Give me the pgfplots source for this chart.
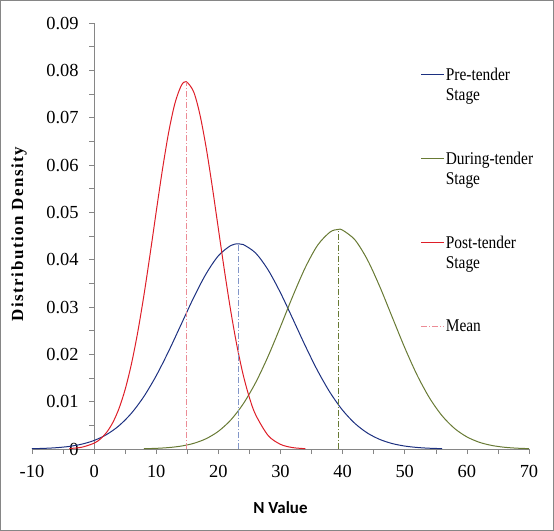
\documentclass[border=0pt]{standalone}
\usepackage{pgfplots}
\pgfplotsset{compat=1.18}
\usepackage{fontspec}
\setmainfont{Liberation Serif}
\newfontfamily\calibri{Carlito}
\newfontfamily\ylabfont[LetterSpace=9]{Liberation Serif}
\newfontfamily\legfont[FakeStretch=0.86]{Liberation Serif}
\definecolor{preblue}{RGB}{28,48,128}
\definecolor{duringgreen}{RGB}{104,122,52}
\definecolor{postred}{RGB}{222,30,40}
\definecolor{meanred}{RGB}{236,140,150}
\definecolor{meanblue}{RGB}{130,150,200}
\definecolor{axgray}{RGB}{134,134,134}
\newcommand\twoline[2]{\parbox[t]{100bp}{\raggedright #1\newline #2}}
\begin{document}
\begin{tikzpicture}
\begin{axis}[
  at={(0,0)}, anchor=south west,
  scale only axis, width=497bp, height=426bp,
  xmin=-10, xmax=70, ymin=0, ymax=0.09,
  axis x line=bottom, axis y line=middle,
  axis line style={axgray, -},
  hide obscured x ticks=false, hide obscured y ticks=false,
  xtick={-10,0,...,70}, minor x tick num=1,
  ytick={0,0.01,...,0.09}, minor y tick num=1,
  scaled y ticks=false,
  tick style={axgray, line width=0.6pt},
  major tick length=5bp, minor tick length=5bp,
  tick align=outside,
  /pgf/number format/assume math mode=true,
  yticklabel style={font=\fontsize{18.5}{20}\selectfont, xshift=-7bp,
    /pgf/number format/fixed, /pgf/number format/precision=2},
  xticklabel style={font=\fontsize{18.5}{20}\selectfont, yshift=-8bp},
  every axis x label/.style={at={(rel axis cs:0.5,0)}, anchor=center, yshift=-59bp},
  every axis y label/.style={at={(rel axis cs:0,0.5)}, anchor=center, xshift=-13bp, yshift=2bp, rotate=90},
  xlabel={\calibri\bfseries\fontsize{17}{19}\selectfont N Value},
  ylabel={\ylabfont\bfseries\fontsize{17}{19}\selectfont Distribution Density},
  legend style={draw=none, fill=none, at={(rel axis cs:0.776,0.902)}, anchor=north west,
    font=\legfont\fontsize{18}{20}\selectfont, row sep=68bp, nodes={inner sep=1bp}},
  legend cell align=left,
  legend image post style={xscale=1.35},
  clip=false,
]
\addplot[preblue, line width=1pt, smooth] coordinates {
(-10,0.0000645) (-8,0.000138) (-6,0.000281) (-4,0.000548) (-2,0.001019) (0,0.001803)
(2,0.003048) (4,0.004912) (6,0.007550) (8,0.01107) (10,0.01549) (12,0.02067)
(14,0.02630) (16,0.03192) (18,0.03696) (20,0.04082) (22,0.04299) (23.2,0.04336)
(24,0.04320) (26,0.04140) (28,0.03785) (30,0.03300) (32,0.02744) (34,0.02177)
(36,0.01647) (38,0.01189) (40,0.008187) (42,0.005377) (44,0.003366) (46,0.002011)
(48,0.001146) (50,0.000623) (52,0.000323) (54,0.000160) (56,0.0000754)};
\addlegendentry{\twoline{Pre-tender}{Stage}}
\addplot[duringgreen, line width=1pt, smooth] coordinates {
(8,0.0000617) (10,0.000140) (12,0.000301) (14,0.000612) (16,0.001181) (18,0.002159)
(20,0.003739) (22,0.006133) (24,0.009529) (26,0.01403) (28,0.01957) (30,0.02585)
(32,0.03236) (34,0.03836) (36,0.04310) (38,0.04586) (39.3,0.04639) (40,0.04624)
(42,0.04416) (44,0.03996) (46,0.03425) (48,0.02781) (50,0.02140) (52,0.01559)
(54,0.01076) (56,0.007040) (58,0.004362) (60,0.002560) (62,0.001424) (64,0.000751)
(66,0.000375) (68,0.000177) (70,0.0000793)};
\addlegendentry{\twoline{During-tender}{Stage}}
\addplot[postred, line width=1pt, smooth] coordinates {
(-4,0.0000966) (-2,0.000372) (0,0.001230) (1,0.002112) (2,0.003494) (3,0.005568)
(4,0.008538) (5,0.01261) (6,0.01793) (7,0.02454) (8,0.03235) (9,0.04107)
(10,0.05019) (11,0.05906) (12,0.06692) (13,0.07300) (14,0.07669) (14.8,0.07762)
(16,0.07553) (17,0.07083) (18,0.06394) (19,0.05559) (20,0.04653) (21,0.03750)
(22,0.02910) (23,0.02174) (24,0.01564) (25,0.01084) (26,0.007228) (28,0.002870)
(30,0.000980) (32,0.000287) (34,0.0000725)};
\addlegendentry{\twoline{Post-tender}{Stage}}
\addplot[meanred, line width=1pt, dash pattern=on 6bp off 2bp on 1bp off 2bp] coordinates {(14.8,0) (14.8,0.0776)};
\addlegendentry{Mean}
\addplot[meanblue, line width=1pt, dash pattern=on 6bp off 2bp on 1bp off 2bp, forget plot] coordinates {(23.2,0) (23.2,0.0434)};
\addplot[duringgreen, line width=0.8pt, dash pattern=on 6bp off 2bp on 1bp off 2bp, forget plot] coordinates {(39.3,0) (39.3,0.0464)};
\end{axis}
\draw[axgray, line width=0.8pt] (-31.6bp,-81.6bp) rectangle (521.6bp,448.6bp);
\end{tikzpicture}
\end{document}
